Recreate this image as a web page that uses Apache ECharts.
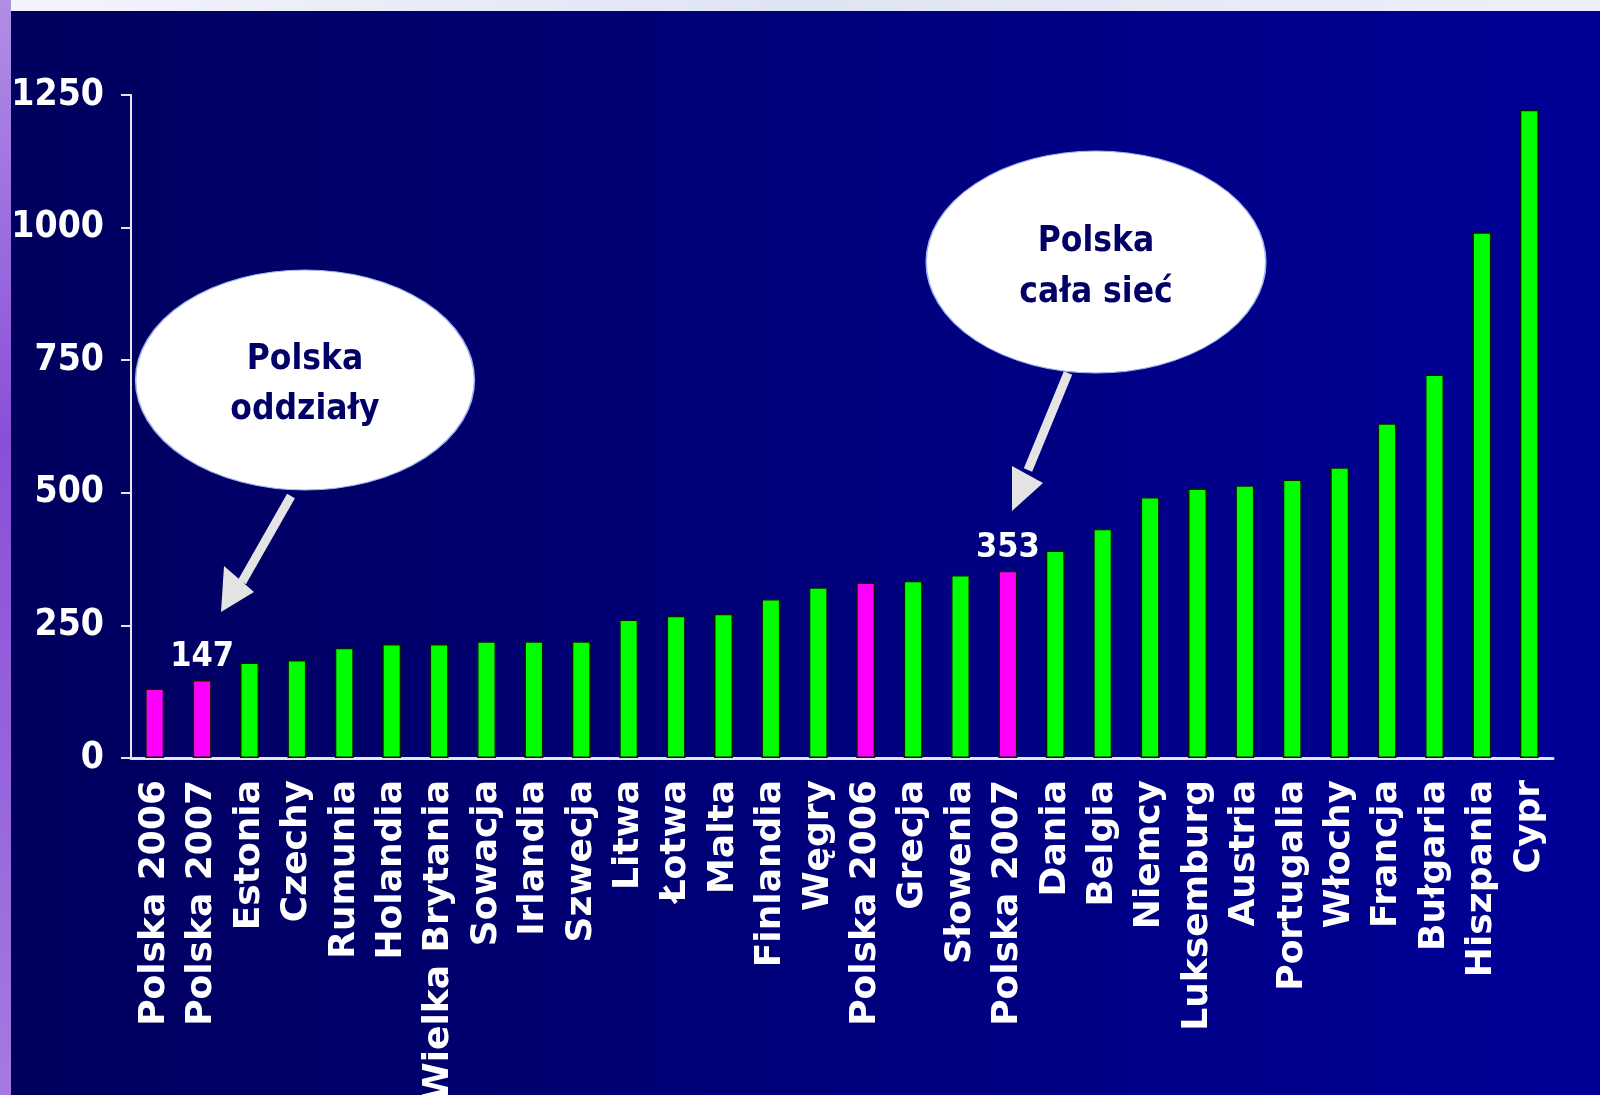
<!DOCTYPE html>
<html>
<head>
<meta charset="utf-8">
<script src="https://cdn.jsdelivr.net/npm/echarts@6/dist/echarts.min.js"></script>
<style>
  html, body { margin:0; padding:0; }
  #chart { width:1600px; height:1095px; }
</style>
</head>
<body>
<div id="chart"></div>
<script>
var categories = ['Polska 2006','Polska 2007','Estonia','Czechy','Rumunia','Holandia','Wielka Brytania',
  'Sowacja','Irlandia','Szwecja','Litwa','Łotwa','Malta','Finlandia','Węgry','Polska 2006','Grecja',
  'Słowenia','Polska 2007','Dania','Belgia','Niemcy','Luksemburg','Austria','Portugalia','Włochy',
  'Francja','Bułgaria','Hiszpania','Cypr'];
var values = [131,147,180,185,208,215,215,220,220,220,261,268,272,300,322,331,334,345,353,391,432,
  492,508,514,525,548,631,723,991,1222];
var yTicks = [0,250,500,750,1000,1250];

var myChart = echarts.init(document.getElementById('chart'));

var option = {
  backgroundColor: {
    type:'linear', x:0, y:0, x2:1, y2:0,
    colorStops:[{offset:0, color:'#00005e'},{offset:1, color:'#000098'}]
  },
  grid: { left:131, right:47, top:95, bottom:337, outerBoundsMode:'none' },
  xAxis: {
    type:'category',
    data: categories,
    axisLine: { lineStyle:{ color:'#e6e6e6', width:3 } },
    axisTick: { length:10, lineStyle:{ color:'#e6e6e6', width:2 } },
    axisLabel: {
      rotate:90, interval:0, margin:22, color:'#ffffff',
      fontFamily:'DejaVu Sans', fontWeight:'bold', fontSize:36
    }
  },
  yAxis: {
    type:'value', min:yTicks[0], max:yTicks[yTicks.length-1], interval:250,
    splitLine:{ show:false },
    axisLine: { show:true, lineStyle:{ color:'#e6e6e6', width:2 } },
    axisTick: { show:true, length:10, lineStyle:{ color:'#e6e6e6', width:2 } },
    axisLabel: {
      margin:27, color:'#ffffff',
      fontFamily:'DejaVu Sans Condensed', fontWeight:'bold', fontSize:37,
      formatter: function (v) { return String(v); }
    }
  },
  series: [{
    type:'bar',
    data: values,
    barWidth:19,
    itemStyle: {
      color: function (p) { return p.name.indexOf('Polska') === 0 ? '#ff00ff' : '#00ff00'; },
      borderColor:'#0a1a0a', borderWidth:1.5
    },
    label: {
      show:true, position:'top', distance:6, color:'#ffffff',
      fontFamily:'DejaVu Sans Condensed', fontWeight:'bold', fontSize:34,
      formatter: function (p) { return p.name === 'Polska 2007' ? String(p.value) : ''; }
    },
    animation:false
  }],
  graphic: [
    // slide decoration: light band at top, purple strip on the left
    { type:'rect', z:-10, shape:{ x:0, y:0, width:1600, height:11 },
      style:{ fill:{ type:'linear', x:0, y:0, x2:1, y2:0,
        colorStops:[{offset:0, color:'#f4f4fc'},{offset:0.5, color:'#dfe4f4'},{offset:1, color:'#eef0fa'}] } } },
    { type:'rect', z:-10, shape:{ x:0, y:0, width:11, height:1095 },
      style:{ fill:{ type:'linear', x:0, y:0, x2:0, y2:1,
        colorStops:[{offset:0, color:'#b08ee6'},{offset:0.4, color:'#8a4fd8'},{offset:1, color:'#a57ae0'}] } } },

    // callout 1
    { type:'polyline', z:50, shape:{ points:[[291,496],[242,582]] },
      style:{ stroke:'#e4e4e4', lineWidth:9, fill:null } },
    { type:'polygon', z:50, shape:{ points:[[221,612],[224,566],[254,592]] },
      style:{ fill:'#e4e4e4' } },
    { type:'circle', z:51, x:305, y:380, scaleX:1.54, scaleY:1, shape:{ cx:0, cy:0, r:110 },
      style:{ fill:'#ffffff', stroke:'#9fb4f0', lineWidth:1 } },
    { type:'text', z:52, x:305, y:385,
      style:{ text:'Polska\noddziały', fill:'#000066', align:'center', verticalAlign:'middle',
        font:'bold 35px "DejaVu Sans Condensed"', lineHeight:50 } },

    // callout 2
    { type:'polyline', z:50, shape:{ points:[[1068,373],[1028,470]] },
      style:{ stroke:'#e4e4e4', lineWidth:9, fill:null } },
    { type:'polygon', z:50, shape:{ points:[[1012,511],[1012,466],[1043,483]] },
      style:{ fill:'#e4e4e4' } },
    { type:'circle', z:51, x:1096, y:262, scaleX:1.53, scaleY:1, shape:{ cx:0, cy:0, r:111 },
      style:{ fill:'#ffffff', stroke:'#9fb4f0', lineWidth:1 } },
    { type:'text', z:52, x:1096, y:267,
      style:{ text:'Polska\ncała sieć', fill:'#000066', align:'center', verticalAlign:'middle',
        font:'bold 35px "DejaVu Sans Condensed"', lineHeight:51 } }
  ]
};

myChart.setOption(option);
</script>
</body>
</html>
